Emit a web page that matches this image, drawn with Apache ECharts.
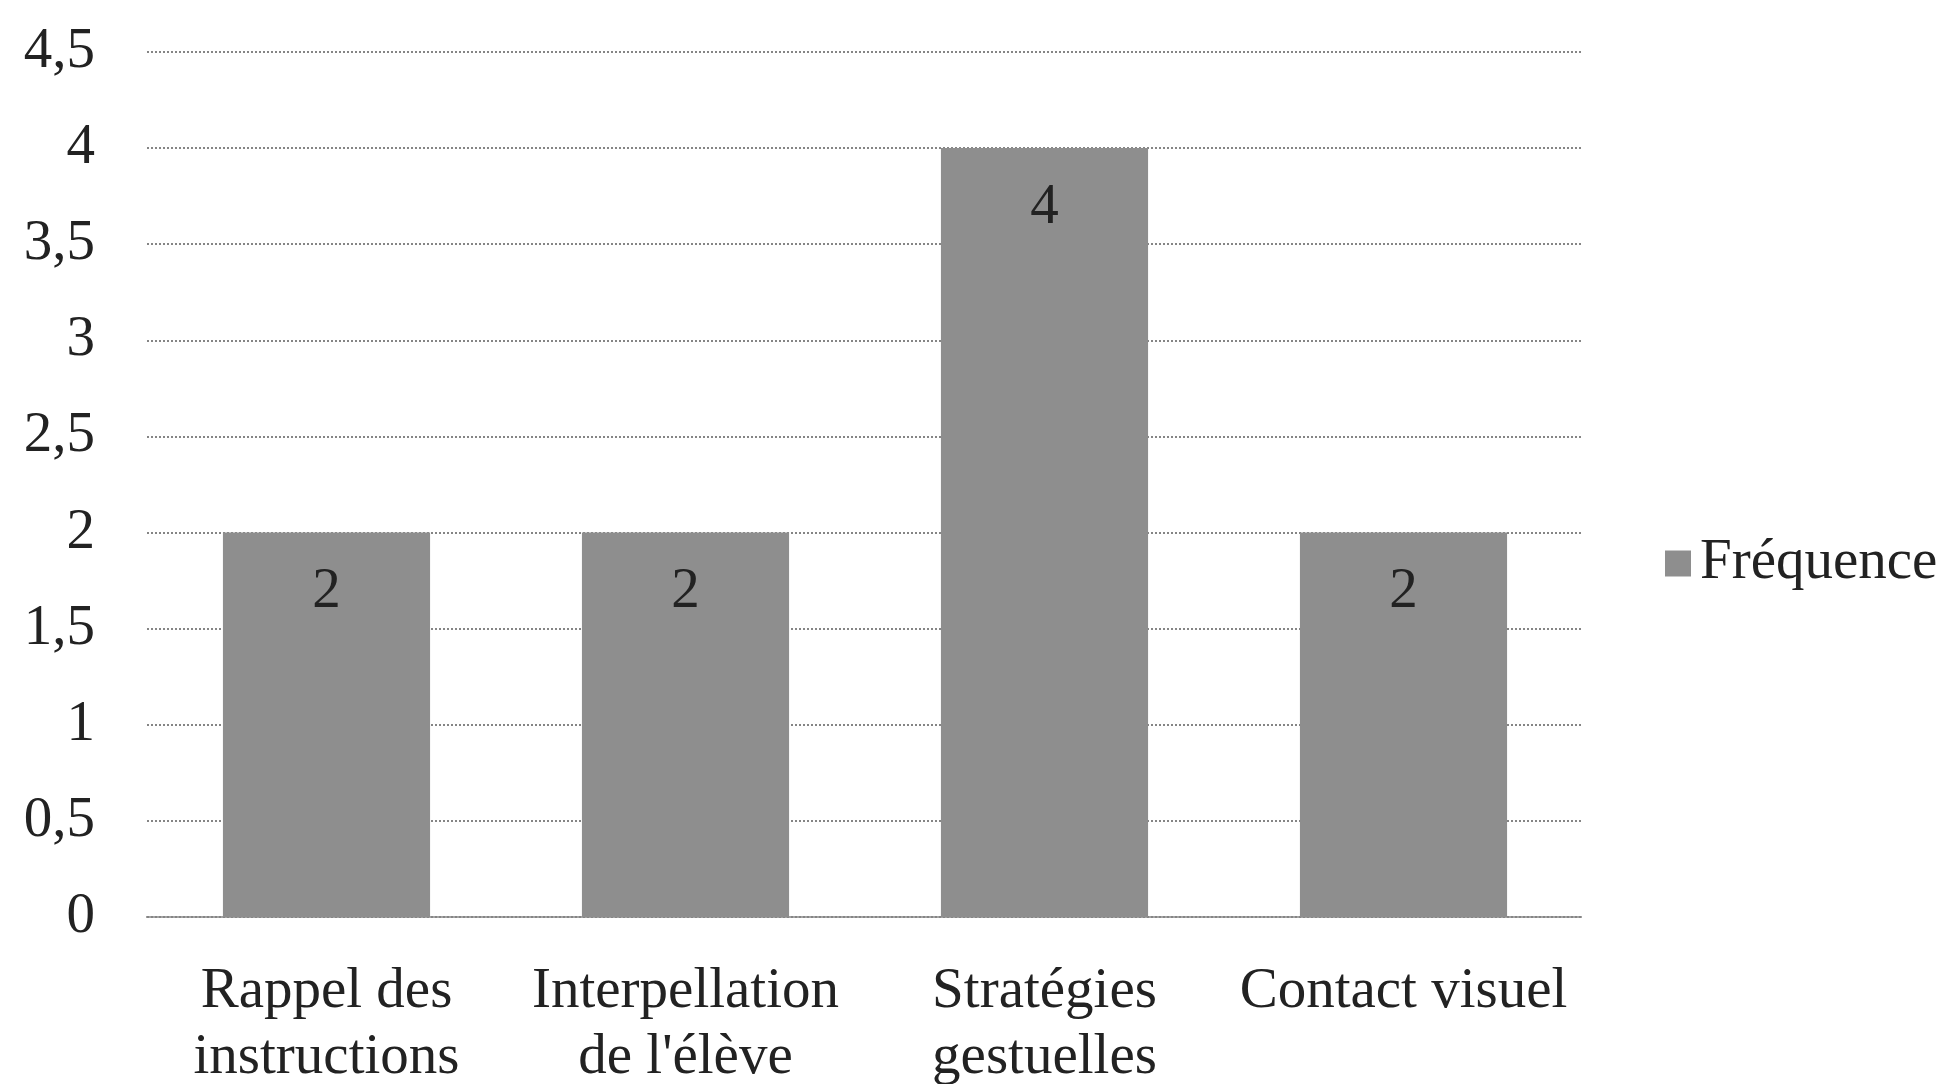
<!DOCTYPE html>
<html>
<head>
<meta charset="utf-8">
<title>Fréquence</title>
<script src="https://cdn.jsdelivr.net/npm/echarts@6/dist/echarts.min.js"></script>
<style>
  html, body { margin: 0; padding: 0; background: #ffffff; }
  #chart { width: 1951px; height: 1084px; }
</style>
</head>
<body>
<div id="chart"></div>
<script>
// Categories along the x axis
const categories = [
  'Rappel des\ninstructions',
  "Interpellation\nde l'élève",
  'Stratégies\ngestuelles',
  'Contact visuel'
];
// Frequency for each category
const frequencies = [2, 2, 4, 2];
// Value axis range and step
const yMin = 0;
const yMax = 4.5;
const yStep = 0.5;
const seriesName = 'Fréquence';

const FONT = '"Liberation Serif", "Times New Roman", serif';
const TEXT = '#222222';

const chart = echarts.init(document.getElementById('chart'), null, { renderer: 'canvas' });

chart.setOption({
  animation: false,
  backgroundColor: '#ffffff',
  textStyle: { fontFamily: FONT },
  grid: {
    left: 147, right: 368, top: 52, bottom: 167,
    containLabel: false,
    outerBoundsMode: 'none'
  },
  legend: {
    data: [seriesName],
    left: 1660,
    top: 530,
    itemWidth: 26,
    itemHeight: 26,
    itemGap: 10,
    icon: 'rect',
    textStyle: { fontFamily: FONT, fontSize: 57, color: TEXT, padding: [0, 0, 0, 4] }
  },
  xAxis: {
    type: 'category',
    data: categories,
    axisTick: { show: false },
    axisLine: { show: true, lineStyle: { color: '#858585', width: 2, type: [2, 2] } },
    axisLabel: {
      interval: 0,
      margin: 42,
      fontFamily: FONT,
      fontSize: 57,
      lineHeight: 66,
      color: TEXT
    }
  },
  yAxis: {
    type: 'value',
    min: yMin,
    max: yMax,
    interval: yStep,
    axisLine: { show: false },
    axisTick: { show: false },
    splitLine: { show: true, lineStyle: { color: '#858585', width: 2, type: [2, 2] } },
    axisLabel: {
      margin: 52,
      fontFamily: FONT,
      fontSize: 57,
      color: TEXT,
      formatter: v => String(v).replace('.', ',')
    }
  },
  series: [{
    name: seriesName,
    type: 'bar',
    data: frequencies,
    barWidth: '57.7%',
    itemStyle: { color: '#8e8e8e' },
    label: {
      show: true,
      position: 'insideTop',
      distance: 31,
      fontFamily: FONT,
      fontSize: 57,
      color: TEXT
    }
  }]
});
</script>
</body>
</html>
